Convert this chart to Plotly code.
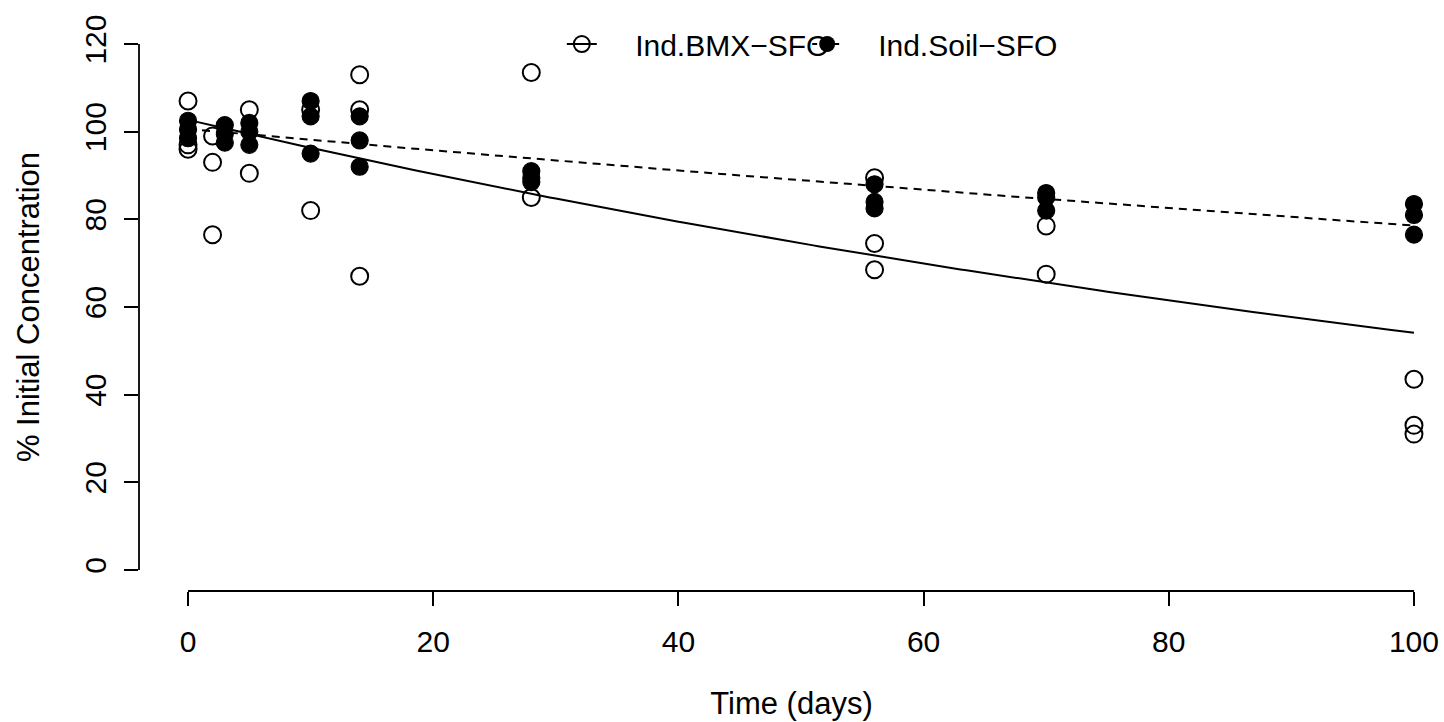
import numpy as np
import plotly.graph_objects as go

# Observed residues (% of initial concentration) by sampling day
bmx_days = [0, 0, 0, 2, 2, 2, 5, 5, 10, 10, 14, 14, 14, 28, 28, 56, 56, 56, 70, 70, 100, 100, 100]
bmx_conc = [107, 97, 96, 99, 93, 76.5, 105, 90.5, 105, 82, 113, 105, 67, 113.5, 85,
            89.5, 74.5, 68.5, 78.5, 67.5, 43.5, 33, 31]

soil_days = [0, 0, 0, 3, 3, 3, 5, 5, 5, 10, 10, 10, 14, 14, 14, 28, 28, 28,
             56, 56, 56, 70, 70, 70, 100, 100, 100]
soil_conc = [102.5, 100.5, 98.5, 101.5, 99.5, 97.5, 102, 100, 97, 107, 103.5, 95,
             103.5, 98, 92, 91, 89.5, 88.5, 88, 84, 82.5, 86, 85, 82, 83.5, 81, 76.5]

# Single first-order (SFO) fit parameters: C(t) = C0 * exp(-k t)
bmx_c0, bmx_k = 102.7, 0.00641
soil_c0, soil_k = 100.6, 0.00247

x_ticks = [0, 20, 40, 60, 80, 100]
y_ticks = [0, 20, 40, 60, 80, 100, 120]

t_fit = np.linspace(0, 100, 201)
bmx_fit = bmx_c0 * np.exp(-bmx_k * t_fit)
soil_fit = soil_c0 * np.exp(-soil_k * t_fit)

FONT = "Liberation Sans, Arial, sans-serif"
BLACK = "black"
PAD1 = "\u00a0" * 4
PAD2 = "\u00a0" * 3 + "\u2009"

fig = go.Figure()

fig.add_trace(go.Scatter(
    x=bmx_days, y=bmx_conc, mode="markers", showlegend=False,
    marker=dict(symbol="circle-open", size=17, color=BLACK, line=dict(width=2, color=BLACK)),
))
fig.add_trace(go.Scatter(
    x=soil_days, y=soil_conc, mode="markers", showlegend=False,
    marker=dict(symbol="circle", size=17, color=BLACK, line=dict(width=1.2, color=BLACK)),
))
fig.add_trace(go.Scatter(
    x=t_fit, y=bmx_fit, mode="lines", showlegend=False,
    line=dict(color=BLACK, width=2),
))
fig.add_trace(go.Scatter(
    x=t_fit, y=soil_fit, mode="lines", showlegend=False,
    line=dict(color=BLACK, width=2, dash="8px,6px"),
))

# Legend keys combining line style and point symbol (one legend box each)
fig.add_trace(go.Scatter(
    x=[None], y=[None], mode="lines+markers", name=PAD1 + "Ind.BMX\u2212SFO", legend="legend",
    line=dict(color=BLACK, width=2),
    marker=dict(symbol="circle-open", size=17, color=BLACK, line=dict(width=2, color=BLACK)),
))
fig.add_trace(go.Scatter(
    x=[None], y=[None], mode="lines+markers", name=PAD2 + "Ind.Soil\u2212SFO", legend="legend2",
    line=dict(color=BLACK, width=2, dash="5px,6px"),
    marker=dict(symbol="circle", size=17, color=BLACK),
))

# Axis lines span only the tick range
fig.add_shape(type="line", xref="x", yref="paper", x0=min(x_ticks), x1=max(x_ticks), y0=0, y1=0,
              line=dict(color=BLACK, width=1.8))
fig.add_shape(type="line", xref="paper", yref="y", x0=0, x1=0, y0=min(y_ticks), y1=max(y_ticks),
              line=dict(color=BLACK, width=1.8))

legend_style = dict(
    orientation="h", xanchor="left", y=0.963, yanchor="middle",
    bgcolor="rgba(0,0,0,0)", font=dict(size=30, family=FONT), itemwidth=30,
)

fig.update_layout(
    width=1444, height=722,
    margin=dict(l=139, r=0, t=23, b=131),
    paper_bgcolor="white", plot_bgcolor="white",
    font=dict(family=FONT, size=30, color=BLACK),
    legend=dict(x=0.324, **legend_style),
    legend2=dict(x=0.512, **legend_style),
    xaxis=dict(
        range=[-4, 102.45], tickvals=x_ticks, ticktext=[str(v) for v in x_ticks],
        ticks="outside", ticklen=14, tickwidth=1.8, tickcolor=BLACK,
        showgrid=False, zeroline=False, showline=False,
        tickfont=dict(size=30), ticklabelstandoff=10,
        title=dict(text="Time (days)", font=dict(size=31), standoff=35),
    ),
    yaxis=dict(
        range=[-4.8, 124.8], tickvals=y_ticks, ticktext=[str(v) for v in y_ticks],
        ticks="outside", ticklen=14, tickwidth=1.8, tickcolor=BLACK,
        showgrid=False, zeroline=False, showline=False,
        tickangle=-90, tickfont=dict(size=30), ticklabelstandoff=6,
        title=dict(text="% Initial Concentration", font=dict(size=31), standoff=30),
    ),
)

fig.write_html("out.html")
